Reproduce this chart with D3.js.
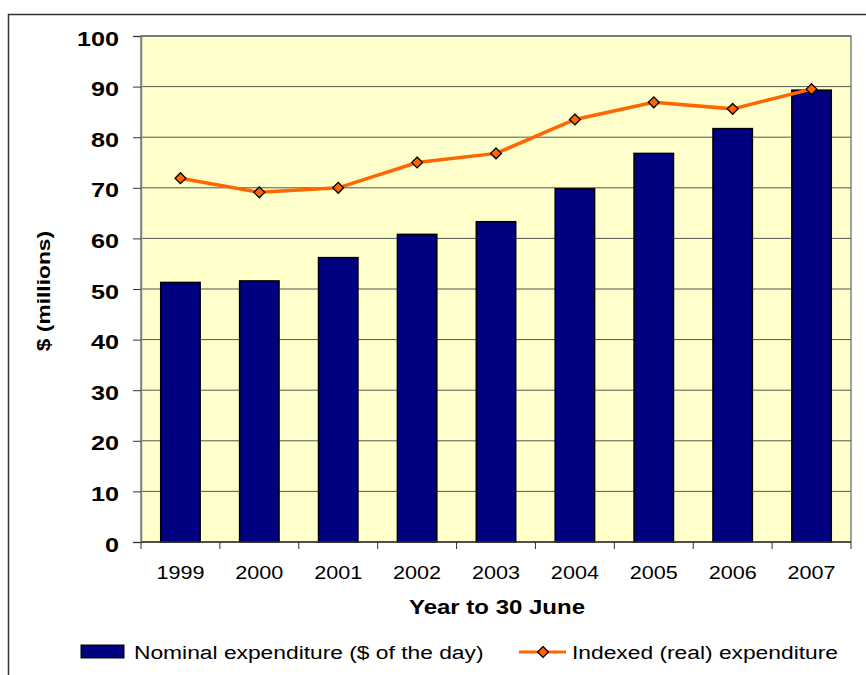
<!DOCTYPE html>
<html lang="en">
<head>
    <meta charset="UTF-8">
    <title>Nominal and Indexed Expenditure</title>
    <script src="https://d3js.org/d3.v7.min.js"></script>
    <style>
        body {
            margin: 0;
            padding: 0;
            background-color: #fff;
            font-family: Arial, "Liberation Sans", sans-serif;
        }
        svg {
            display: block;
        }
    </style>
</head>
<body>
    <svg id="chart" width="866" height="675"></svg>
    <script>
        const years = ["1999", "2000", "2001", "2002", "2003", "2004", "2005", "2006", "2007"];
        const nominal = [51.3, 51.6, 56.2, 60.8, 63.3, 69.8, 76.8, 81.7, 89.3];
        const indexed = [71.9, 69.1, 70.0, 75.0, 76.8, 83.5, 86.9, 85.6, 89.5];
        const yTicks = [0, 10, 20, 30, 40, 50, 60, 70, 80, 90, 100];

        const svg = d3.select("#chart");
        const stretch = 1.2; // the original text is rendered a little wide

        // helper: text drawn at (x, y) and stretched horizontally
        function wideText(parent, x, y, str, size, bold, anchor, rotate) {
            return parent.append("g")
                .attr("transform", `translate(${x},${y})` + (rotate ? ` rotate(${rotate})` : "") + ` scale(${stretch},1)`)
                .append("text")
                .attr("text-anchor", anchor || "start")
                .style("font-size", size + "px")
                .style("font-weight", bold ? "bold" : "normal")
                .text(str);
        }

        // outer frame (open on right and bottom, cut by the picture edge)
        svg.append("path")
            .attr("d", "M8.5,680 L8.5,14.5 L870,14.5")
            .attr("fill", "none")
            .attr("stroke", "#333")
            .attr("stroke-width", 1.5);

        const margin = { left: 141, right: 851, top: 36, bottom: 542 };

        const x = d3.scaleBand()
            .domain(years)
            .range([margin.left, margin.right])
            .paddingInner(0.5)
            .paddingOuter(0.25);

        const xc = d3.scaleBand()
            .domain(years)
            .range([margin.left, margin.right]);

        const y = d3.scaleLinear()
            .domain([0, 100])
            .range([margin.bottom, margin.top]);

        // plot background
        svg.append("rect")
            .attr("x", margin.left)
            .attr("y", margin.top)
            .attr("width", margin.right - margin.left)
            .attr("height", margin.bottom - margin.top)
            .attr("fill", "#ffffcc")
            .attr("stroke", "#808080")
            .attr("stroke-width", 1.5);

        // gridlines
        svg.append("g")
            .selectAll("line")
            .data(yTicks.filter(d => d > 0))
            .join("line")
            .attr("x1", margin.left)
            .attr("x2", margin.right)
            .attr("y1", d => y(d))
            .attr("y2", d => y(d))
            .attr("stroke", "#555")
            .attr("stroke-width", 1);

        // y axis
        const yAxis = svg.append("g")
            .attr("transform", `translate(${margin.left},0)`)
            .call(d3.axisLeft(y).tickValues(yTicks).tickSize(8).tickPadding(14));
        yAxis.select(".domain").attr("stroke", "#808080").attr("stroke-width", 1.5);
        yAxis.selectAll(".tick line").attr("stroke", "#333");
        yAxis.selectAll(".tick text")
            .attr("x", 0)
            .attr("dy", "0.43em")
            .attr("transform", `translate(-22,0) scale(${stretch},1)`)
            .attr("fill", "#000")
            .style("font-size", "21px")
            .style("font-weight", "bold")
            .style("font-family", "Arial, 'Liberation Sans', sans-serif");

        // bars
        svg.append("g")
            .selectAll("rect")
            .data(years)
            .join("rect")
            .attr("x", d => x(d))
            .attr("width", x.bandwidth())
            .attr("y", (d, i) => y(nominal[i]))
            .attr("height", (d, i) => y(0) - y(nominal[i]))
            .attr("fill", "#000080")
            .attr("stroke", "#000")
            .attr("stroke-width", 1.5);

        // x axis
        const xAxisG = svg.append("g")
            .attr("transform", `translate(0,${margin.bottom})`);
        xAxisG.append("line")
            .attr("x1", margin.left)
            .attr("x2", margin.right)
            .attr("stroke", "#333")
            .attr("stroke-width", 1.5);
        xAxisG.selectAll(".xtick")
            .data(years.concat(["end"]))
            .join("line")
            .attr("class", "xtick")
            .attr("x1", (d, i) => margin.left + i * xc.bandwidth())
            .attr("x2", (d, i) => margin.left + i * xc.bandwidth())
            .attr("y1", 0)
            .attr("y2", 7)
            .attr("stroke", "#333");
        years.forEach(d => {
            wideText(xAxisG, xc(d) + xc.bandwidth() / 2, 37, d, 18, false, "middle");
        });

        // line series
        const line = d3.line()
            .x((d, i) => xc(years[i]) + xc.bandwidth() / 2)
            .y(d => y(d));

        svg.append("path")
            .datum(indexed)
            .attr("fill", "none")
            .attr("stroke", "#ff6600")
            .attr("stroke-width", 3.5)
            .attr("d", line);

        const diamond = d3.symbol().type(d3.symbolDiamond2).size(75);

        svg.append("g")
            .selectAll("path")
            .data(indexed)
            .join("path")
            .attr("transform", (d, i) => `translate(${xc(years[i]) + xc.bandwidth() / 2},${y(d)})`)
            .attr("d", diamond)
            .attr("fill", "#ff6600")
            .attr("stroke", "#000")
            .attr("stroke-width", 1.3);

        // axis titles
        wideText(svg, (margin.left + margin.right) / 2 + 1, 614, "Year to 30 June", 20, true, "middle");
        wideText(svg, 50, (margin.top + margin.bottom) / 2 + 2, "$ (millions)", 19, true, "middle", -90);

        // legend
        const legend = svg.append("g");
        legend.append("rect")
            .attr("x", 81)
            .attr("y", 645)
            .attr("width", 43)
            .attr("height", 13)
            .attr("fill", "#000080")
            .attr("stroke", "#000");
        wideText(legend, 134, 659, "Nominal expenditure ($ of the day)", 19, false, "start");

        legend.append("line")
            .attr("x1", 519)
            .attr("x2", 566)
            .attr("y1", 652)
            .attr("y2", 652)
            .attr("stroke", "#ff6600")
            .attr("stroke-width", 3);
        legend.append("path")
            .attr("transform", "translate(543,652)")
            .attr("d", diamond)
            .attr("fill", "#ff6600")
            .attr("stroke", "#000")
            .attr("stroke-width", 1.3);
        wideText(legend, 572, 659, "Indexed (real) expenditure", 19, false, "start");
    </script>
</body>
</html>
